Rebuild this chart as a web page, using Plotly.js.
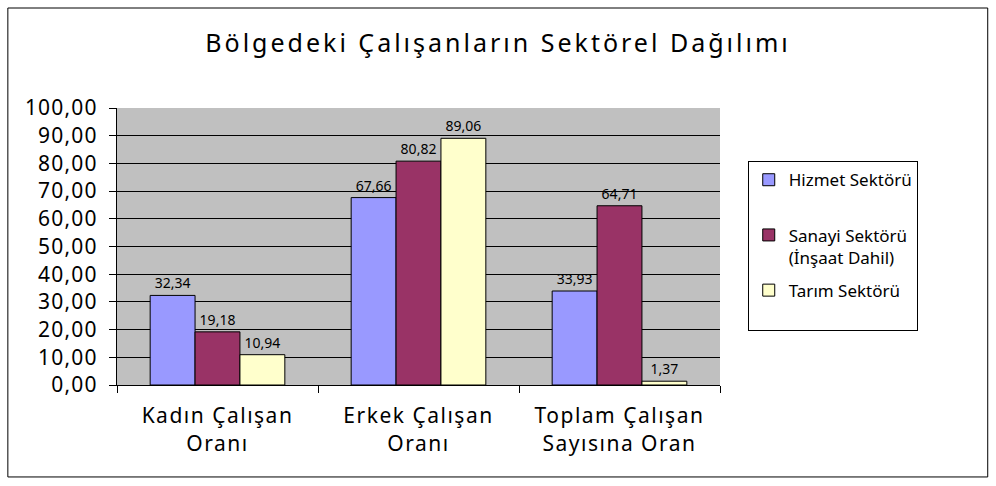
<!DOCTYPE html>
<html><head><meta charset="utf-8">
<script src="https://cdn.plot.ly/plotly-3.0.1.min.js"></script>
<style>html,body{margin:0;padding:0;background:#fff}#c{width:996px;height:486px}
#c .gtitle{letter-spacing:3px}
#c .xtick text{letter-spacing:1.5px}
#c .ytick text{letter-spacing:1.2px}
</style>
</head><body><div id="c"></div>
<script>
const categories = ["Kadın Çalışan<br>Oranı", "Erkek Çalışan<br>Oranı", "Toplam Çalışan<br>Sayısına Oran"];
const seriesNames = ["Hizmet Sektörü<br> ", "Sanayi Sektörü<br>(İnşaat Dahil)", "Tarım Sektörü<br> "];
const hizmet = [32.34, 67.66, 33.93];
const sanayi = [19.18, 80.82, 64.71];
const tarim = [10.94, 89.06, 1.37];
const colors = ["#9999FF", "#993366", "#FFFFCC"];
const values = [hizmet, sanayi, tarim];
const fontFam = "Noto Sans, DejaVu Sans, sans-serif";

const traces = values.map((v, i) => ({
  type: "bar",
  name: seriesNames[i],
  x: categories,
  y: v,
  marker: {color: colors[i], line: {color: "#000", width: 1}},
  text: v.map(d => d.toFixed(2).replace(".", ",")),
  textposition: "outside",
  cliponaxis: false,
  textfont: {family: fontFam, size: 14, color: "#000"},
  legendgroup: "g" + i
}));

const layout = {
  width: 996, height: 486,
  margin: {l: 117, r: 276, t: 108, b: 101},
  paper_bgcolor: "#fff",
  plot_bgcolor: "#C0C0C0",
  separators: ",.",
  barmode: "group",
  bargap: 0.33,
  bargroupgap: 0,
  font: {family: fontFam, color: "#000"},
  title: {text: "Bölgedeki Çalışanların Sektörel Dağılımı", x: 0.5, xanchor: "center", y: 0.91, yanchor: "middle",
          font: {family: fontFam, size: 25, color: "#000"}},
  xaxis: {
    type: "category", tickson: "boundaries", ticks: "outside", ticklen: 7, tickcolor: "#000",
    showline: true, linecolor: "#000", linewidth: 1, mirror: false,
    tickfont: {family: fontFam, size: 21, color: "#000"}, showgrid: false,
    ticklabelstandoff: 12
  },
  yaxis: {
    range: [0, 100], dtick: 10, tickformat: ".2f", ticks: "outside", ticklen: 7, tickcolor: "#000",
    showline: true, linecolor: "#000", linewidth: 1,
    gridcolor: "#000", gridwidth: 1, zeroline: false,
    tickfont: {family: fontFam, size: 21, color: "#000"},
    ticklabelstandoff: 7
  },
  showlegend: true,
  legend: {
    x: 1.046, xanchor: "left", y: 0.808, yanchor: "top",
    bgcolor: "#fff", bordercolor: "#000", borderwidth: 1,
    font: {family: fontFam, size: 17, color: "#000"},
    traceorder: "grouped", tracegroupgap: 8, itemwidth: 30, valign: "top"
  },
  shapes: [{type: "rect", xref: "paper", yref: "paper", x0: -0.181, x1: 1.444, y0: -0.332, y1: 1.361,
            line: {color: "#000", width: 1}, fillcolor: "rgba(0,0,0,0)", layer: "below"}]
};
Plotly.newPlot("c", traces, layout, {displayModeBar: false, staticPlot: true});
</script></body></html>
